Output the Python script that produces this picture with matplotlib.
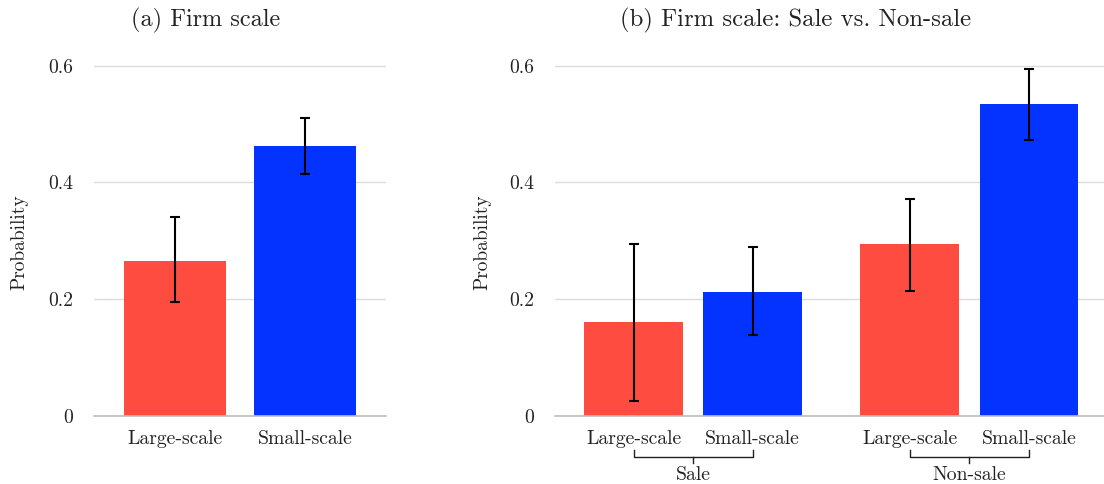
import numpy as np
import matplotlib
matplotlib.use('Agg')
import matplotlib.pyplot as plt

plt.rcParams['font.family'] = ['cmr10', 'DejaVu Serif']
plt.rcParams['mathtext.fontset'] = 'cm'
plt.rcParams['axes.unicode_minus'] = False

# data
cats = ['Large-scale', 'Small-scale']
colors = ['#FF4C40', '#0433FF']

a_vals = [0.265, 0.463]
a_lo = [0.195, 0.415]
a_hi = [0.340, 0.511]

groups = ['Sale', 'Non-sale']
b_vals = [0.161, 0.213, 0.295, 0.535]
b_lo = [0.026, 0.138, 0.214, 0.473]
b_hi = [0.295, 0.290, 0.372, 0.595]

yticks = [0, 0.2, 0.4, 0.6]
ytick_labels = ['0', '0.2', '0.4', '0.6']

fig = plt.figure(figsize=(11.04, 4.84), dpi=100)
ax_bottom = 68 / 484
ax_h = 0.62 * 584 / 484
ax1 = fig.add_axes([94 / 1104, ax_bottom, 292 / 1104, ax_h])
ax2 = fig.add_axes([555 / 1104, ax_bottom, 549 / 1104, ax_h])


def style(ax):
    ax.set_ylim(0, 0.62)
    ax.set_yticks(yticks)
    ax.set_yticklabels(ytick_labels)
    ax.grid(axis='y', color='#dcdcdc', linewidth=1)
    ax.set_axisbelow(True)
    for s in ['top', 'right', 'left']:
        ax.spines[s].set_visible(False)
    ax.spines['bottom'].set_color('#bdbdbd')
    ax.spines['bottom'].set_linewidth(1.2)
    ax.tick_params(axis='y', length=0, pad=15, labelsize=14.2, colors='#222222')
    ax.tick_params(axis='x', length=0, pad=10, labelsize=14.2, colors='#222222')
    ax.set_ylabel('Probability', fontsize=14, color='#222222')


# panel a
xa = np.arange(len(cats))
ax1.bar(xa, a_vals, width=0.78, color=colors)
yerr_a = [np.array(a_vals) - np.array(a_lo), np.array(a_hi) - np.array(a_vals)]
ax1.errorbar(xa, a_vals, yerr=yerr_a, fmt='none', ecolor='black',
             elinewidth=1.5, capsize=3.5, capthick=1.5)
ax1.set_xlim(-0.62, 1.62)
ax1.set_xticks(xa)
ax1.set_xticklabels(cats)
style(ax1)
ax1.yaxis.set_label_coords(-66 / 292, 0.48)

# panel b
xb = np.array([g * 2.32 + i for g in range(len(groups)) for i in range(len(cats))])
ax2.bar(xb, b_vals, width=0.83, color=colors * len(groups))
yerr_b = [np.array(b_vals) - np.array(b_lo), np.array(b_hi) - np.array(b_vals)]
ax2.errorbar(xb, b_vals, yerr=yerr_b, fmt='none', ecolor='black',
             elinewidth=1.5, capsize=3.5, capthick=1.5)
ax2.set_xlim(-0.66, 3.95)
ax2.set_xticks(xb)
ax2.set_xticklabels(cats * len(groups))
style(ax2)
ax2.yaxis.set_label_coords(-64 / 549, 0.48)

# group brackets
ph = 0.62 * 584
trans = ax2.get_xaxis_transform()
for g, name in enumerate(groups):
    x0 = xb[g * 2]
    x1 = xb[g * 2 + 1]
    xm = (x0 + x1) / 2
    yb = -40.7 / ph
    ax2.plot([x0, x0, x1, x1], [-34 / ph, yb, yb, -34 / ph], color='#222222',
             linewidth=1, transform=trans, clip_on=False)
    ax2.plot([xm, xm], [yb, -47 / ph], color='#222222', linewidth=1,
             transform=trans, clip_on=False)
    ax2.text(xm, -59 / ph, name, transform=trans, ha='center', va='center',
             fontsize=14.2, color='#222222')

fig.text(206 / 1104, 1 - 20 / 484, '(a) Firm scale', ha='center', va='center',
         fontsize=17.5, color='#222222')
fig.text(796 / 1104, 1 - 20 / 484, '(b) Firm scale: Sale vs. Non-sale',
         ha='center', va='center', fontsize=17.8, color='#222222')

fig.savefig('out.png', dpi=100)
